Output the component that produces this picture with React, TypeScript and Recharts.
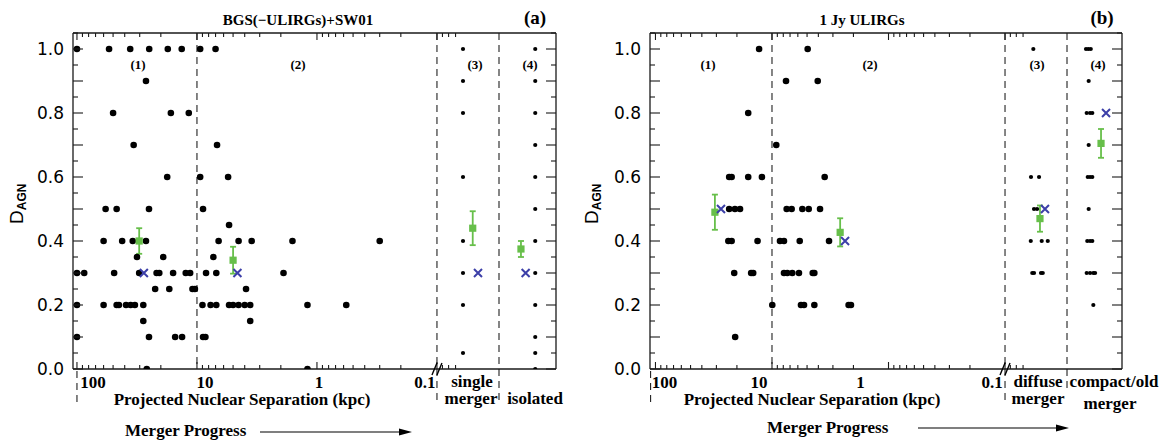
import React from "react";
import { ScatterChart, Scatter, XAxis, YAxis, ReferenceLine, ErrorBar } from "recharts";

const GREEN = "#67bf4a";
const BLUE = "#3c3fa8";
const INK = "#1a1a1a";
const SERIF = "'Liberation Serif', 'Times New Roman', serif";
const SANS = "'DejaVu Sans', sans-serif";

// ---- (a) BGS(-ULIRGs)+SW01 ----
// [D_AGN, projected nuclear separations (kpc)]
const bgsRows: [number, number[]][] = [
  [1.0, [100, 54, 36, 25, 17.5, 13.4, 9.4, 7.0]],
  [0.9, [26.6]],
  [0.8, [50, 16.5, 11.7]],
  [0.7, [33.7, 6.8]],
  [0.6, [17.7, 9.4, 5.5]],
  [0.5, [57.7, 46.7, 25.1, 8.9]],
  [0.45, [5.4]],
  [0.4, [60, 42, 34.3, 26.6, 6.6, 4.5, 3.5, 1.6, 0.3]],
  [0.35, [31.6, 19.1, 7.3]],
  [0.3, [100, 87, 49, 30.3, 21.7, 20.6, 15.8, 12.4, 11.4, 8.4, 6.9, 1.9]],
  [0.25, [22.3, 17, 10.9, 10.4, 3.9]],
  [0.2, [100, 60, 46.7, 44.7, 39, 35.7, 32.9, 28, 9.0, 7.7, 6.9, 5.4, 5.0, 4.5, 4.0, 3.6, 1.2, 0.57]],
  [0.15, [28, 3.6]],
  [0.1, [100, 25.1, 15.2, 13.3, 8.9, 8.5]],
  [0.0, [26.2, 1.2]],
];
// single nuclei: D_AGN values (column position on the axis)
const BGS_SINGLE_POS = 1.217;
const BGS_ISOLATED_POS = 1.819;
const bgsSingleMerger = [1.0, 0.9, 0.8, 0.6, 0.4, 0.3, 0.2, 0.05];
const bgsIsolated = [1.0, 0.9, 0.8, 0.7, 0.6, 0.5, 0.4, 0.3, 0.2, 0.1, 0.05, 0.0];
// class means (green) and medians (blue x)
const bgsMeans = [
  { sep: 30.3, d: 0.4, err: 0.04 },
  { sep: 5.0, d: 0.34, err: 0.042 },
  { pos: 1.298, d: 0.44, err: 0.053 },
  { pos: 1.7, d: 0.375, err: 0.025 },
];
const bgsMedians = [
  { sep: 27.7, d: 0.3 },
  { sep: 4.6, d: 0.3 },
  { pos: 1.342, d: 0.3 },
  { pos: 1.739, d: 0.3 },
];

// ---- (b) 1 Jy ULIRGs ----
const jyRows: [number, number[]][] = [
  [1.0, [12.9, 4.94]],
  [0.9, [7.58, 4.05]],
  [0.8, [16.0]],
  [0.7, [9.19]],
  [0.6, [23.3, 22.2, 16.0, 12.2, 3.53]],
  [0.5, [23.3, 20.8, 18.8, 7.48, 6.78, 5.49, 4.84, 3.87]],
  [0.4, [23.7, 22.2, 13.3, 8.54, 7.89, 5.78, 3.24]],
  [0.3, [21.1, 15.1, 14.5, 7.89, 7.39, 6.7, 5.87, 4.47, 4.33]],
  [0.2, [9.94, 5.64, 5.31, 4.33, 2.2, 2.1]],
  [0.1, [20.7]],
];
// [position in column, D_AGN]
const jyDiffuse: [number, number][] = [
  [1.243, 1.0], [1.223, 0.6], [1.292, 0.6], [1.249, 0.5], [1.275, 0.5],
  [1.221, 0.4], [1.315, 0.4], [1.367, 0.4],
  [1.234, 0.3], [1.249, 0.3], [1.309, 0.3], [1.324, 0.3],
];
const jyCompact: [number, number][] = [
  [1.695, 1.0], [1.715, 1.0], [1.736, 1.0], [1.718, 0.9],
  [1.701, 0.8], [1.73, 0.8], [1.749, 0.8], [1.718, 0.7],
  [1.71, 0.6], [1.73, 0.6], [1.749, 0.6], [1.718, 0.5],
  [1.706, 0.4], [1.73, 0.4], [1.749, 0.4],
  [1.701, 0.3], [1.73, 0.3], [1.758, 0.3], [1.773, 0.3], [1.758, 0.2],
];
const jyMeans = [
  { sep: 30.9, d: 0.49, err: 0.055 },
  { sep: 2.6, d: 0.427, err: 0.044 },
  { pos: 1.3, d: 0.47, err: 0.041 },
  { pos: 1.824, d: 0.705, err: 0.045 },
];
const jyMedians = [
  { sep: 27.4, d: 0.5 },
  { sep: 2.36, d: 0.4 },
  { pos: 1.343, d: 0.5 },
  { pos: 1.867, d: 0.8 },
];

const DECADES = [-2, -1, 0, 1];
const DECADE_TEXT = ["100", "10", "1", "0.1"];
const yTicks = Array.from({ length: 22 }, (_, i) => +(i * 0.05).toFixed(2));

type Cls = { sep?: number; pos?: number; d: number; err?: number };
const sepToAxis = (kpc: number) => -Math.log10(kpc);
const axisX = (c: Cls) => (c.sep !== undefined ? sepToAxis(c.sep) : (c.pos as number));

// log minor/major ticks on the reversed separation axis
function logTicks(lo: number, hi: number) {
  const out: number[] = [];
  for (let e = 2; e >= -2; e--) {
    for (let m = 1; m <= 9; m++) {
      const u = m === 1 ? -e : -Math.log10(m * Math.pow(10, e));
      if (u >= lo && u <= hi) out.push(u);
    }
  }
  return out.sort((a, b) => a - b);
}

const AXIS = { stroke: INK, strokeWidth: 1.3 };

const bottomTick = (shift: number[]) => (p: any) => {
  const { x, y, payload } = p;
  const v: number = payload.value;
  const di = DECADES.indexOf(v);
  const len = di >= 0 ? 7 : 4;
  return (
    <g>
      <line x1={x} x2={x} y1={y} y2={y - len} stroke={INK} strokeWidth={1.1} />
      {di >= 0 && (
        <text x={x + shift[di]} y={y + 19} textAnchor="middle" fontFamily={SERIF} fontWeight="bold" fontSize={17} fill="#000">
          {DECADE_TEXT[di]}
        </text>
      )}
      {v === 1 && (
        <path d={`M${x - 5},${y + 6} L${x},${y - 6} M${x},${y + 6} L${x + 5},${y - 6}`} stroke="#000" strokeWidth={1.4} fill="none" />
      )}
    </g>
  );
};

const topTick = (p: any) => {
  const len = DECADES.includes(p.payload.value) ? 7 : 4;
  return <line x1={p.x} x2={p.x} y1={p.y} y2={p.y + len} stroke={INK} strokeWidth={1.1} />;
};

const leftTick = (p: any) => {
  const i = Math.round(p.payload.value * 20);
  const len = i % 2 === 0 ? 10 : 5;
  return (
    <g>
      <line x1={p.x} x2={p.x + len} y1={p.y} y2={p.y} stroke={INK} strokeWidth={1.1} />
      {i % 4 === 0 && (
        <text x={p.x - 9} y={p.y} dy="0.36em" textAnchor="end" fontFamily={SANS} fontSize={17} fill="#000">
          {p.payload.value.toFixed(1)}
        </text>
      )}
    </g>
  );
};

const rightTick = (p: any) => {
  const i = Math.round(p.payload.value * 20);
  const len = i % 2 === 0 ? 10 : 5;
  return <line x1={p.x} x2={p.x - len} y1={p.y} y2={p.y} stroke={INK} strokeWidth={1.1} />;
};

const dashed = (below: number) => (p: any) => {
  const top = Math.min(p.y1, p.y2);
  const bottom = Math.max(p.y1, p.y2);
  return <line x1={p.x1} x2={p.x1} y1={top} y2={bottom + below} stroke="#222" strokeWidth={1.1} strokeDasharray="7 5" />;
};
const belowOnly = (below: number) => (p: any) => {
  const bottom = Math.max(p.y1, p.y2);
  return <line x1={p.x1} x2={p.x1} y1={bottom + 2} y2={bottom + below} stroke="#222" strokeWidth={1.1} strokeDasharray="7 5" />;
};

const dot = (r: number) => (p: any) => <circle cx={p.cx} cy={p.cy} r={r} fill="#000" />;
const square = (p: any) => <rect x={p.cx - 3.6} y={p.cy - 3.6} width={7.2} height={7.2} fill={GREEN} />;
const cross = (p: any) => (
  <path
    d={`M${p.cx - 4},${p.cy - 4} L${p.cx + 4},${p.cy + 4} M${p.cx - 4},${p.cy + 4} L${p.cx + 4},${p.cy - 4}`}
    stroke={BLUE}
    strokeWidth={2}
  />
);

type PanelProps = {
  left: number;
  width: number;
  margin: { top: number; right: number; bottom: number; left: number };
  domain: [number, number];
  boundary: number;
  boundaryBelow: number;
  breakBelow: number;
  edgeMark: number;
  rows: [number, number[]][];
  columns: [number, number][];
  means: Cls[];
  medians: Cls[];
  labelShift: number[];
};

function Panel(props: PanelProps) {
  const { left, width, margin, domain, boundary, rows, columns, means, medians, labelShift } = props;
  const pairs = rows.flatMap(([d, seps]) => seps.map((s) => ({ x: sepToAxis(s), y: d })));
  const singles = columns.map(([pos, d]) => ({ x: pos, y: d }));
  const meanPts = means.map((c) => ({ x: axisX(c), y: c.d, err: c.err }));
  const medPts = medians.map((c) => ({ x: axisX(c), y: c.d }));
  const xTicks = logTicks(domain[0], 1.16);
  return (
    <div style={{ position: "absolute", left, top: 0 }}>
      <ScatterChart width={width} height={440} margin={margin}>
        <XAxis xAxisId="b" orientation="bottom" type="number" dataKey="x" domain={domain} allowDataOverflow
          ticks={xTicks} interval={0} tickSize={0} tickMargin={0} tickLine={false} height={50}
          axisLine={AXIS} tick={bottomTick(labelShift)} />
        <XAxis xAxisId="t" orientation="top" type="number" dataKey="x" domain={domain} allowDataOverflow
          ticks={xTicks} interval={0} tickSize={0} tickMargin={0} tickLine={false} height={10}
          axisLine={AXIS} tick={topTick} />
        <YAxis yAxisId="l" type="number" dataKey="y" domain={[0, 1.05]} allowDataOverflow ticks={yTicks}
          interval={0} tickSize={0} tickMargin={0} tickLine={false} width={50} axisLine={AXIS} tick={leftTick} />
        <YAxis yAxisId="r" orientation="right" type="number" dataKey="y" domain={[0, 1.05]} allowDataOverflow
          ticks={yTicks} interval={0} tickSize={0} tickMargin={0} tickLine={false} width={10} axisLine={AXIS}
          tick={rightTick} />
        <ReferenceLine xAxisId="b" yAxisId="l" x={-1} shape={dashed(0)} />
        <ReferenceLine xAxisId="b" yAxisId="l" x={1} shape={dashed(props.breakBelow)} />
        <ReferenceLine xAxisId="b" yAxisId="l" x={boundary} shape={dashed(props.boundaryBelow)} />
        <ReferenceLine xAxisId="b" yAxisId="l" x={props.edgeMark} shape={belowOnly(34)} />
        <Scatter xAxisId="b" yAxisId="l" data={pairs} shape={dot(3.3)} isAnimationActive={false} />
        <Scatter xAxisId="b" yAxisId="l" data={singles} shape={dot(2.1)} isAnimationActive={false} />
        <Scatter xAxisId="b" yAxisId="l" data={meanPts} shape={square} isAnimationActive={false}>
          <ErrorBar dataKey="err" direction="y" width={3} stroke={GREEN} strokeWidth={1.8} />
        </Scatter>
        <Scatter xAxisId="b" yAxisId="l" data={medPts} shape={cross} isAnimationActive={false} />
        <Scatter xAxisId="t" yAxisId="r" data={[]} isAnimationActive={false} />
      </ScatterChart>
    </div>
  );
}

const Txt = (p: { x: number; y: number; size?: number; anchor?: string; children: React.ReactNode }) => (
  <text x={p.x} y={p.y} fontFamily={SERIF} fontWeight="bold" fontSize={p.size ?? 17} textAnchor={(p.anchor ?? "middle") as any} fill="#000">
    {p.children}
  </text>
);

const DLabel = ({ x, y }: { x: number; y: number }) => (
  <text transform={`translate(${x},${y}) rotate(-90)`} fontFamily="'Liberation Sans', Arial, sans-serif" fill="#000">
    <tspan fontSize={19}>D</tspan>
    <tspan fontSize={12} fontWeight="bold" dy={3}>AGN</tspan>
  </text>
);

export default function App() {
  return (
    <div style={{ position: "absolute", left: 0, top: 0, width: 1166, height: 440, background: "#fff", overflow: "hidden" }}>
      <Panel
        left={0}
        width={580}
        margin={{ top: 23, right: 14, bottom: 21, left: 23 }}
        domain={[-2.033, 1.992]}
        boundary={1.517}
        boundaryBelow={34}
        breakBelow={34}
        edgeMark={-2}
        rows={bgsRows}
        columns={[
          ...bgsSingleMerger.map((d) => [BGS_SINGLE_POS, d] as [number, number]),
          ...bgsIsolated.map((d) => [BGS_ISOLATED_POS, d] as [number, number]),
        ]}
        means={bgsMeans}
        medians={bgsMedians}
        labelShift={[16, 8, 2, -12]}
      />
      <Panel
        left={580}
        width={586}
        margin={{ top: 23, right: 34, bottom: 21, left: 20 }}
        domain={[-2.047, 2.004]}
        boundary={1.532}
        boundaryBelow={23}
        breakBelow={36}
        edgeMark={-2.042}
        rows={jyRows}
        columns={[...jyDiffuse, ...jyCompact]}
        means={jyMeans}
        medians={jyMedians}
        labelShift={[9, -13, -28, -13]}
      />
      <svg width={1166} height={440} style={{ position: "absolute", left: 0, top: 0, pointerEvents: "none" }}>
        <Txt x={298} y={25} size={15}>BGS(−ULIRGs)+SW01</Txt>
        <Txt x={535} y={24} size={19}>(a)</Txt>
        <Txt x={862} y={25} size={15}>1 Jy ULIRGs</Txt>
        <Txt x={1102} y={24} size={19}>(b)</Txt>

        <Txt x={138} y={69} size={13}>(1)</Txt>
        <Txt x={298} y={69} size={13}>(2)</Txt>
        <Txt x={475} y={69} size={13}>(3)</Txt>
        <Txt x={530} y={69} size={13}>(4)</Txt>
        <Txt x={708} y={69} size={13}>(1)</Txt>
        <Txt x={870} y={69} size={13}>(2)</Txt>
        <Txt x={1037} y={69} size={13}>(3)</Txt>
        <Txt x={1098} y={69} size={13}>(4)</Txt>

        <DLabel x={23} y={224} />
        <DLabel x={598} y={224} />

        <Txt x={242} y={405}>Projected Nuclear Separation (kpc)</Txt>
        <Txt x={812} y={405}>Projected Nuclear Separation (kpc)</Txt>

        <Txt x={472} y={387}>single</Txt>
        <Txt x={471} y={404}>merger</Txt>
        <Txt x={535} y={404}>isolated</Txt>
        <Txt x={1038} y={387}>diffuse</Txt>
        <Txt x={1038} y={404}>merger</Txt>
        <Txt x={1114} y={387}>compact/old</Txt>
        <Txt x={1110} y={409}>merger</Txt>

        <Txt x={125} y={436} anchor="start">Merger Progress</Txt>
        <line x1={260} x2={400} y1={432} y2={432} stroke="#000" strokeWidth={1.2} />
        <polygon points="412,432 399,428.5 399,435.5" fill="#000" />
        <Txt x={767} y={433} anchor="start">Merger Progress</Txt>
        <line x1={918} x2={1058} y1={428} y2={428} stroke="#000" strokeWidth={1.2} />
        <polygon points="1069,428 1056,424.5 1056,431.5" fill="#000" />
      </svg>
    </div>
  );
}
